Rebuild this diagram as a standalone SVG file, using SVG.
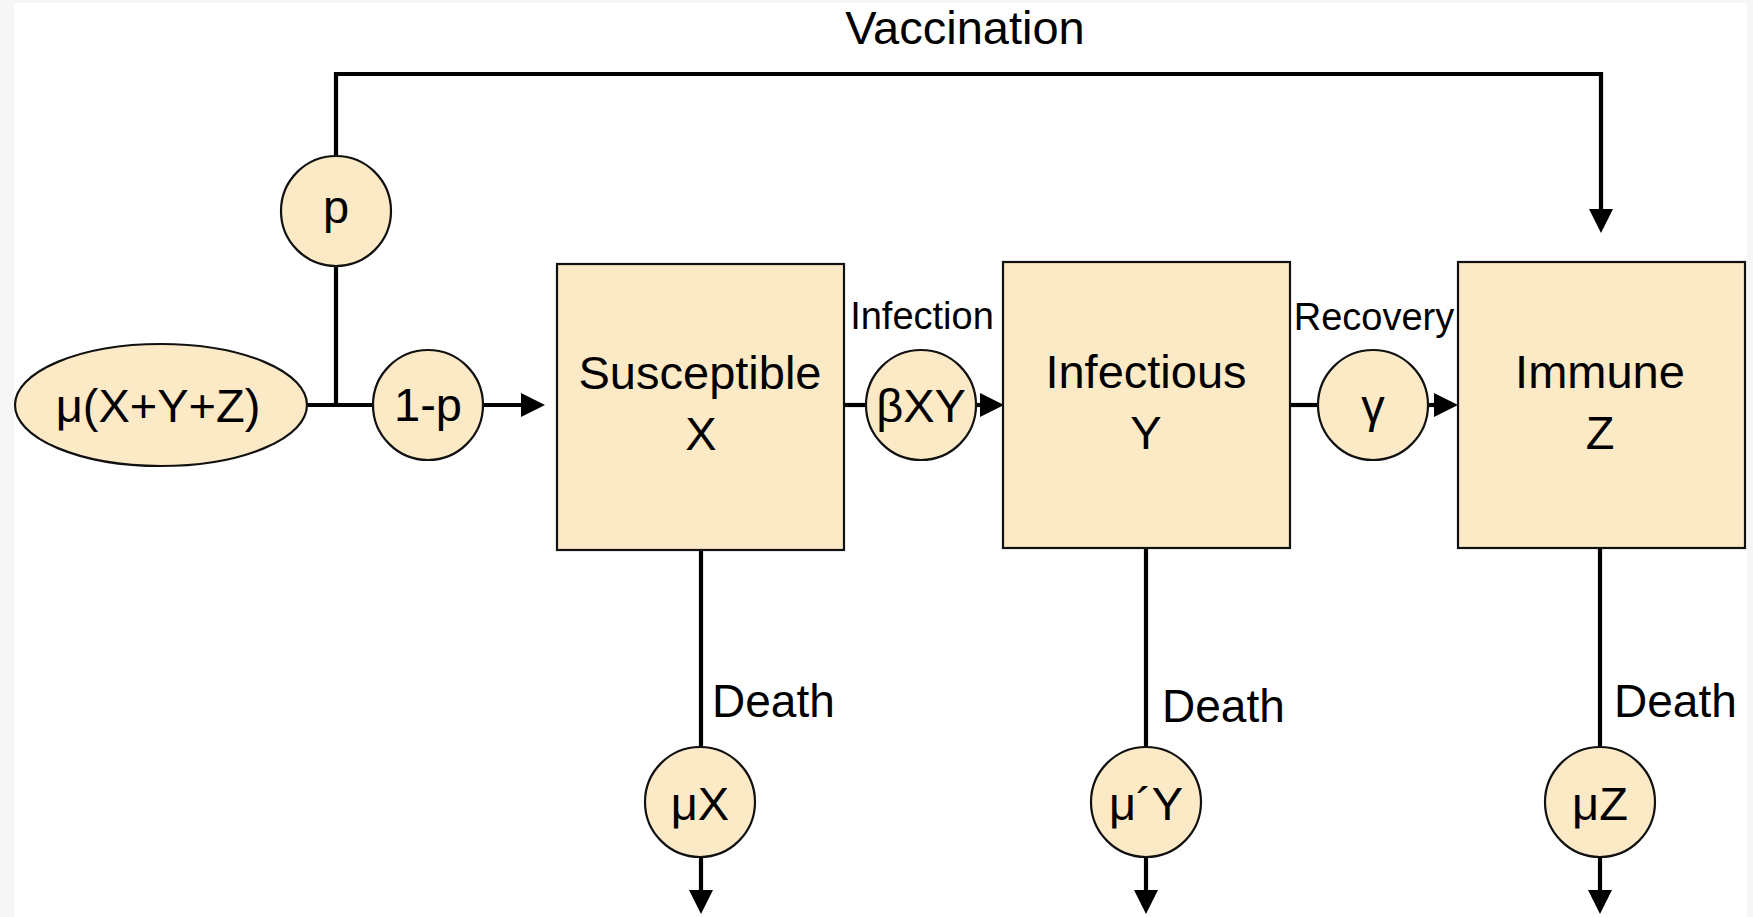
<svg xmlns="http://www.w3.org/2000/svg" width="1753" height="917" viewBox="0 0 1753 917">
<style>
.box{fill:#FCE9C6;stroke:#111;stroke-width:2.2}
.nd{fill:#FCE9C6;stroke:#111;stroke-width:2.2}
.ln{fill:none;stroke:#000;stroke-width:4.2}
.t{font-family:"Liberation Sans",Arial,sans-serif;font-size:47px;fill:#000;text-anchor:middle}
.s{font-family:"Liberation Sans",Arial,sans-serif;font-size:38px;fill:#000;text-anchor:middle}
.d{font-family:"Liberation Sans",Arial,sans-serif;font-size:46px;fill:#000}
</style>
<defs>
<marker id="ah" markerUnits="userSpaceOnUse" markerWidth="26" markerHeight="26" refX="0" refY="12" orient="auto" viewBox="0 0 26 26">
<path d="M0,0 L24,12 L0,24 z" fill="#000"/>
</marker>
</defs>
<rect x="0" y="0" width="1753" height="917" fill="#f6f6f6"/>
<rect x="14" y="3" width="1733" height="914" fill="#ffffff"/>
<text class="t" x="965" y="44">Vaccination</text>
<g id="connectors">
<line class="ln" x1="307" y1="405" x2="374" y2="405"/>
<line class="ln" x1="336" y1="405" x2="336" y2="266"/>
<polyline class="ln" points="336,157 336,74 1601,74 1601,209" marker-end="url(#ah)"/>
<line class="ln" x1="483" y1="405" x2="521" y2="405" marker-end="url(#ah)"/>
<line class="ln" x1="844" y1="405" x2="867" y2="405"/>
<line class="ln" x1="976" y1="405" x2="980" y2="405" marker-end="url(#ah)"/>
<line class="ln" x1="1290" y1="405" x2="1319" y2="405"/>
<line class="ln" x1="1428" y1="405" x2="1434" y2="405" marker-end="url(#ah)"/>
<line class="ln" x1="701" y1="550" x2="701" y2="748"/>
<line class="ln" x1="701" y1="857" x2="701" y2="890" marker-end="url(#ah)"/>
<line class="ln" x1="1146" y1="548" x2="1146" y2="748"/>
<line class="ln" x1="1146" y1="857" x2="1146" y2="890" marker-end="url(#ah)"/>
<line class="ln" x1="1600" y1="548" x2="1600" y2="748"/>
<line class="ln" x1="1600" y1="857" x2="1600" y2="890" marker-end="url(#ah)"/>
</g>
<g id="birth"><ellipse class="nd" cx="161" cy="405" rx="146" ry="61"/><text class="t" x="158" y="422">μ(X+Y+Z)</text></g>
<g id="p"><circle class="nd" cx="336" cy="211" r="55"/><text class="t" x="336" y="223">p</text></g>
<g id="one-minus-p"><circle class="nd" cx="428" cy="405" r="55"/><text class="t" x="428" y="421">1-p</text></g>
<g id="susceptible"><rect class="box" x="557" y="264" width="287" height="286"/><text class="t" x="700" y="389">Susceptible</text><text class="t" x="701" y="450">X</text></g>
<g id="infection"><text class="s" x="922" y="329">Infection</text><circle class="nd" cx="921" cy="405" r="55"/><text class="t" x="921" y="422">βXY</text></g>
<g id="infectious"><rect class="box" x="1003" y="262" width="287" height="286"/><text class="t" x="1146" y="388">Infectious</text><text class="t" x="1146" y="449">Y</text></g>
<g id="recovery"><text class="s" x="1374" y="330">Recovery</text><circle class="nd" cx="1373" cy="405" r="55"/><text class="t" x="1373" y="422">γ</text></g>
<g id="immune"><rect class="box" x="1458" y="262" width="287" height="286"/><text class="t" x="1600" y="388">Immune</text><text class="t" x="1600" y="449">Z</text></g>
<g id="deathX"><text class="d" x="712" y="717">Death</text><circle class="nd" cx="700" cy="802" r="55"/><text class="t" x="700" y="820">μX</text></g>
<g id="deathY"><text class="d" x="1162" y="722">Death</text><circle class="nd" cx="1146" cy="802" r="55"/><text class="t" x="1146" y="820">μ´Y</text></g>
<g id="deathZ"><text class="d" x="1614" y="717">Death</text><circle class="nd" cx="1600" cy="802" r="55"/><text class="t" x="1600" y="820">μZ</text></g>
</svg>
